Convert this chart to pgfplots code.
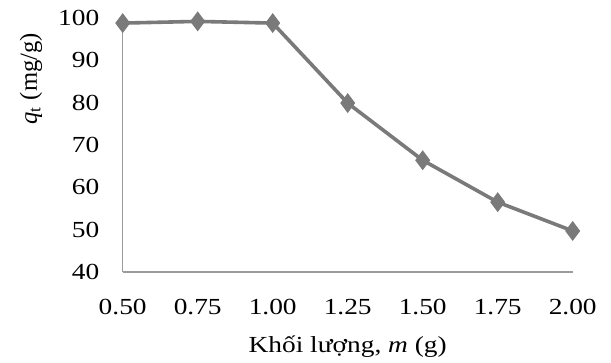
\documentclass[border=0pt]{standalone}
\usepackage{fontspec}
\setmainfont[FakeStretch=1.19]{Liberation Serif}
\newfontfamily\plainserif{Liberation Serif}
\usepackage{pgfplots}
\pgfplotsset{compat=1.18}
\definecolor{lineGray}{RGB}{122,122,122}
\definecolor{axisGray}{RGB}{155,155,155}
\begin{document}
\begin{tikzpicture}
\begin{axis}[
  scale only axis,
  width=225pt, height=127pt,
  xmin=0.5, xmax=2.0, ymin=40, ymax=100,
  xtick={0.5,0.75,1.0,1.25,1.5,1.75,2.0},
  ytick={40,50,...,100},
  axis x line*=bottom, axis y line*=left,
  axis line style={axisGray, line width=0.6pt, -},
  major tick length=0pt,
  tick style={draw=none},
  clip=false,
  /pgf/number format/assume math mode=true,
  xticklabel shift=0pt,
  yticklabel shift=0pt,
  xticklabel style={/pgf/number format/.cd, fixed, fixed zerofill, precision=2, /tikz/.cd, inner sep=0pt, anchor=base, yshift=-21.4pt},
  yticklabel style={/pgf/number format/.cd, fixed, precision=0, /tikz/.cd, inner sep=0pt, anchor=east, xshift=-11.5pt},
  tick label style={font=\fontsize{11.5}{14}\selectfont},
  xlabel style={font=\fontsize{11.5}{14}\selectfont},
  ylabel style={font=\plainserif\fontsize{12.3}{14}\selectfont},
  xlabel={Khối lượng, \textit{m} (g)},
  ylabel={\textit{q}\textsubscript{t} (mg/g)},
  xlabel style={at={(axis description cs:0.5,-0.315)}, anchor=base, inner sep=0pt},
  ylabel style={at={(axis description cs:-0.191,0.761)}, anchor=base, inner sep=0pt},
]
\addplot[color=lineGray, line width=1.8pt, mark=diamond*, mark size=3.5pt, mark options={fill=lineGray, draw=lineGray}]
coordinates {
(0.50,98.8) (0.75,99.2) (1.00,98.8) (1.25,79.9) (1.50,66.4) (1.75,56.5) (2.00,49.7)
};
\end{axis}
\pgfresetboundingbox
\path[use as bounding box] ([shift={(-61.35pt,-45.4pt)}]current axis.south west) rectangle ([shift={(19.15pt,9pt)}]current axis.north east);
\end{tikzpicture}
\end{document}
